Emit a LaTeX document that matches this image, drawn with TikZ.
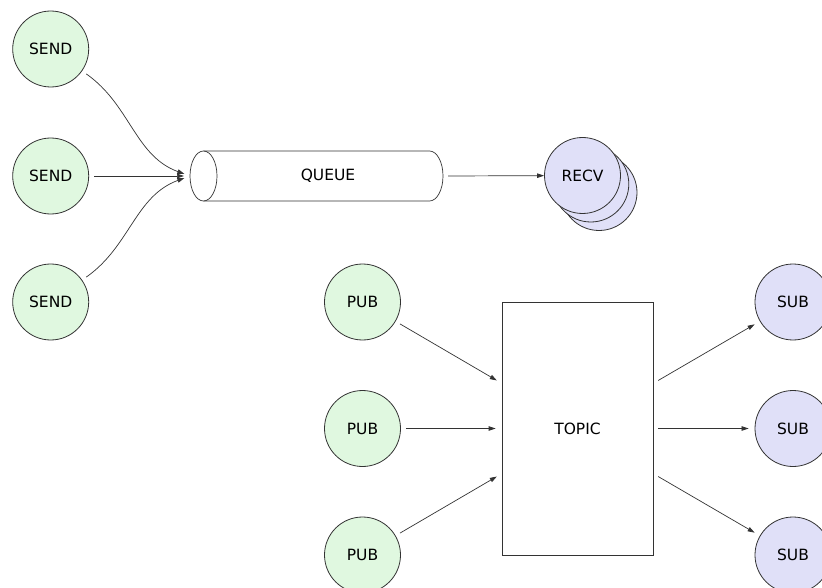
\documentclass[tikz,border=0pt]{standalone}
\usepackage{fontspec}
\setmainfont{DejaVu Sans}
\usetikzlibrary{arrows.meta,calc}
\definecolor{prodfill}{HTML}{E0F8E0}
\definecolor{consfill}{HTML}{E0E0F8}
\definecolor{edge}{HTML}{333333}
\tikzset{
  actor/.style={circle, draw=edge, line width=0.8pt, minimum size=76pt, inner sep=0pt,
                font=\fontsize{15.5}{18}\selectfont},
  producer/.style={actor, fill=prodfill},
  consumer/.style={actor, fill=consfill},
  flow/.style={draw=edge, line width=0.7pt, shorten <=5pt, shorten >=6pt,
               -{Triangle[length=7pt,width=4.5pt]}},
  outline/.style={draw=edge, line width=0.7pt},
}
\begin{document}
\begin{tikzpicture}[x=1pt,y=-1pt]
\useasboundingbox (0,0) rectangle (822,588);
\clip (0,0) rectangle (822,588);

% point-to-point: senders, queue, receivers
\node[producer] (send1) at (50.7,49) {SEND};
\node[producer] (send2) at (50.7,176) {SEND};
\node[producer] (send3) at (50.7,302) {SEND};

\node[minimum width=253pt, minimum height=50pt, inner sep=0pt] (queue) at (316.5,176) {};
\draw[outline] (203.5,151) -- (429.5,151)
      arc[start angle=270, end angle=450, x radius=13.5, y radius=25]
      -- (203.5,201);
\draw[outline] (203.5,176) ellipse[x radius=13.5, y radius=25];
\node[font=\fontsize{15.5}{18}\selectfont] (queuelabel) at (328,176) {QUEUE};

\node[consumer] (recv3) at (599,192.5) {};
\node[consumer] (recv2) at (590.8,184) {};
\node[consumer] (recv) at (582.5,175.5) {RECV};

\coordinate (qin) at (190,176);
\draw[flow] (send1) to[out=-35, in=160] (qin);
\draw[flow] (send2) -- (qin);
\draw[flow] (send3) to[out=35, in=-160] (qin);
\draw[flow, shorten <=0pt, shorten >=0pt] (queue.east) ++(5,0) coordinate (qout) -- (recv);

% publish/subscribe: publishers, topic, subscribers
\node[producer] (pub1) at (362.5,302) {PUB};
\node[producer] (pub2) at (362.5,428.5) {PUB};
\node[producer] (pub3) at (362.5,555) {PUB};

\node[outline, minimum width=151pt, minimum height=253pt, inner sep=0pt,
      font=\fontsize{15.5}{18}\selectfont] (topic) at (577.5,428.5) {TOPIC};

\node[consumer] (sub1) at (793,302) {SUB};
\node[consumer] (sub2) at (793,428.5) {SUB};
\node[consumer] (sub3) at (793,555) {SUB};

\coordinate (tin1) at (502,383.5);
\coordinate (tin3) at (502,473.5);
\coordinate (tout1) at (653,383.5);
\coordinate (tout3) at (653,473.5);

\draw[flow] (pub1) -- (tin1);
\draw[flow] (pub2) -- (topic.west);
\draw[flow] (pub3) -- (tin3);

\draw[flow, shorten <=6pt] (tout1) -- (sub1);
\draw[flow] (topic.east) -- (sub2);
\draw[flow, shorten <=6pt] (tout3) -- (sub3);
\end{tikzpicture}
\end{document}
